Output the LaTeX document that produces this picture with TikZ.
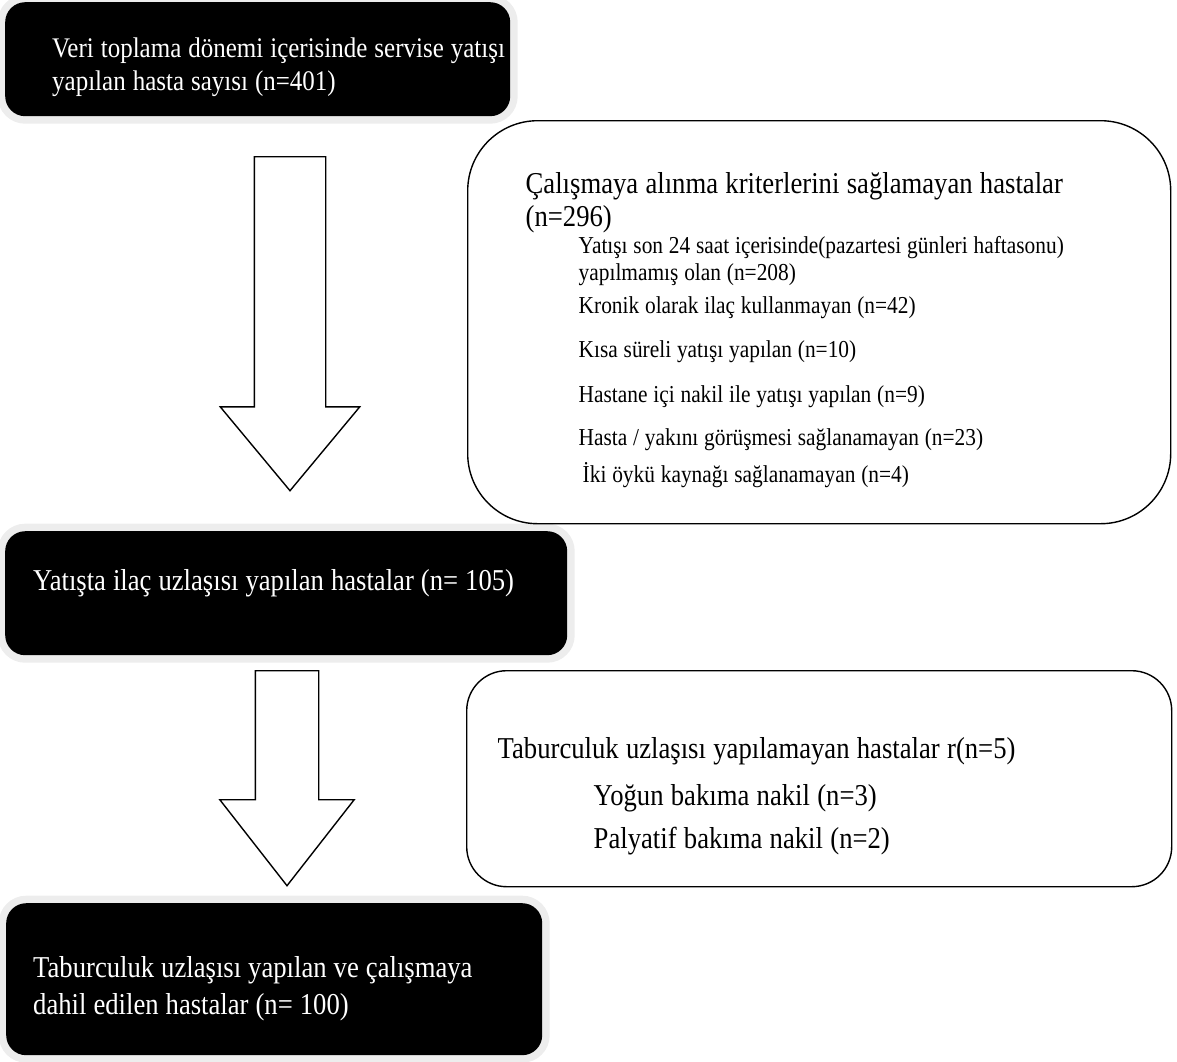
\documentclass[tikz,border=0pt]{standalone}
\usepackage{fontspec}
\setmainfont{Liberation Serif}[FakeStretch=0.88]
\usetikzlibrary{shapes.arrows,positioning}
\tikzset{
    stage/.style={anchor=north west, fill=black, text=white, rounded corners=20pt,
        preaction={draw=black!7, line width=15pt}, inner ysep=0pt,
        font=\fontsize{30.3}{37}\selectfont, execute at begin node={\spaceskip=7pt\relax}},
    excl/.style={anchor=north west, draw, line width=1.4pt, fill=white, inner ysep=0pt,
        font=\fontsize{30.3}{33}\selectfont, execute at begin node={\spaceskip=7.3pt\relax}},
    flow/.style={single arrow, draw, line width=1.4pt, fill=white, rotate=-90,
        anchor=tail, inner xsep=0pt, minimum width=0pt}
}

\begin{document}
\begin{tikzpicture}[x=1pt, y=-1pt]
            \useasboundingbox (0,0) rectangle (1177,1061);

            % main flow
            \node[stage, inner xsep=47pt, text width=411pt, text height=55pt, text depth=59pt,
                font=\fontsize{28.4}{33}\selectfont] (admitted) at (5,2)
                {\mbox{Veri toplama dönemi içerisinde servise yatışı}\\yapılan hasta sayısı (n=401)};
            \node[stage, inner xsep=28pt, text width=506pt, text height=59pt, text depth=65pt] (reconciled) at (5,531)
                {Yatışta ilaç uzlaşısı yapılan hastalar (n= 105)};
            \node[stage, inner xsep=27pt, text width=482pt, text height=74pt, text depth=78pt] (included) at (6,903)
                {Taburculuk uzlaşısı yapılan ve çalışmaya\\dahil edilen hastalar (n= 100)};

            \node[flow, minimum height=334pt, inner ysep=35pt, single arrow head extend=34pt,
                single arrow tip angle=79.5] (flowA) at (290,156) {};
            \node[flow, minimum height=215pt, inner ysep=31pt, single arrow head extend=35.5pt,
                single arrow tip angle=76] (flowB) at (287,670) {};

            % exclusions
            \node[excl, rounded corners=70pt, inner xsep=58pt, text width=587pt, text height=73pt, text depth=330pt] (excluded) at (467,120)
                {Çalışmaya alınma kriterlerini sağlamayan hastalar\\(n=296)\par
                {\fontsize{24.3}{27}\selectfont\spaceskip=5.8pt\leftskip=53pt
                Yatışı son 24 saat içerisinde(pazartesi günleri haftasonu)\\
                yapılmamış olan (n=208)\\[6pt]
                Kronik olarak ilaç kullanmayan (n=42)\\[17pt]
                Kısa süreli yatışı yapılan (n=10)\\[18pt]
                Hastane içi nakil ile yatışı yapılan (n=9)\\[16pt]
                Hasta / yakını görüşmesi sağlanamayan (n=23)\\[10pt]
                \hspace*{4pt}İki öykü kaynağı sağlanamayan (n=4)\par}};
            \node[excl, rounded corners=40pt, inner xsep=31pt, text width=643pt, text height=88pt, text depth=128pt] (dropped) at (466,670)
                {Taburculuk uzlaşısı yapılamayan hastalar r(n=5)\par\vspace{14pt}
                {\leftskip=96pt
                Yoğun bakıma nakil (n=3)\\[10pt]
                Palyatif bakıma nakil (n=2)\par}};
\end{tikzpicture}
\end{document}
